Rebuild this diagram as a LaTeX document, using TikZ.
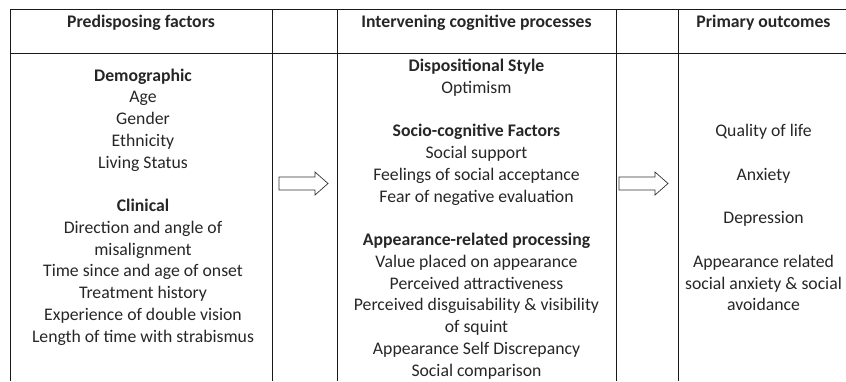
\documentclass[tikz,border=0pt]{standalone}
\usepackage{fontspec}
\setmainfont{Carlito}
\usepackage{tikz}
\usetikzlibrary{calc,positioning}

\tikzset{
  rule/.style={line width=1pt, black!90},
  cell/.style={anchor=base, inner sep=0pt, font=\fontsize{17.7}{21.75}\selectfont, text=black!85},
  head/.style={cell, font=\fontsize{17.7}{21.75}\selectfont\bfseries},
  blockarrow/.style={line width=0.7pt, black!80, fill=white}
}

\begin{document}
\begin{tikzpicture}[x=1pt,y=-1pt]
  \useasboundingbox (0,0) rectangle (846,381);
  % table rules
  \draw [rule] (10,381) -- (10,9) -- (846,9);
  \draw [rule] (10,53) -- (846,53);
  \foreach \x in {272,337,616,678}
    \draw [rule] (\x,9) -- (\x,381);

  % column headings
  \node [head] (hpre) at (141,27) {Predisposing factors};
  \node [head] (hint) at (476.5,27) {Intervening cognitive processes};
  \node [head] (hout) at (763.5,27) {Primary outcomes};

  % predisposing factors
  \foreach \k/\t [count=\i] in {0/\textbf{Demographic}, 1/Age, 2/Gender, 3/Ethnicity,
      4/Living Status, 6/\textbf{Clinical}, 7/Direction and angle of,
      8/misalignment, 9/Time since and age of onset, 10/Treatment history,
      11/Experience of double vision, 12/Length of time with strabismus}
    \node [cell] (pre\i) at (143,81+21.75*\k) {\t};

  % intervening cognitive processes
  \foreach \k/\t [count=\i] in {0/\textbf{Dispositional Style}, 1/Optimism,
      3/\textbf{Socio-cognitive Factors}, 4/Social support,
      5/Feelings of social acceptance, 6/Fear of negative evaluation,
      8/\textbf{Appearance-related processing}, 9/Value placed on appearance,
      10/Perceived attractiveness, 11/Perceived disguisability \& visibility,
      12/of squint, 13/Appearance Self Discrepancy, 14/Social comparison}
    \node [cell] (int\i) at (476.5,71.5+21.75*\k) {\t};

  % primary outcomes
  \foreach \k/\t [count=\i] in {3/Quality of life, 5/Anxiety, 7/Depression,
      9/Appearance related, 10/social anxiety \& social, 11/avoidance}
    \node [cell] (out\i) at (763.5,71.5+21.75*\k) {\t};

  % block arrows
  \foreach \x in {279,619}
    \draw [blockarrow] (\x,177) -- ++(36,0) -- ++(0,-5) -- ++(13,11.5)
      -- ++(-13,11.5) -- ++(0,-5) -- ++(-36,0) -- cycle;
\end{tikzpicture}
\end{document}
